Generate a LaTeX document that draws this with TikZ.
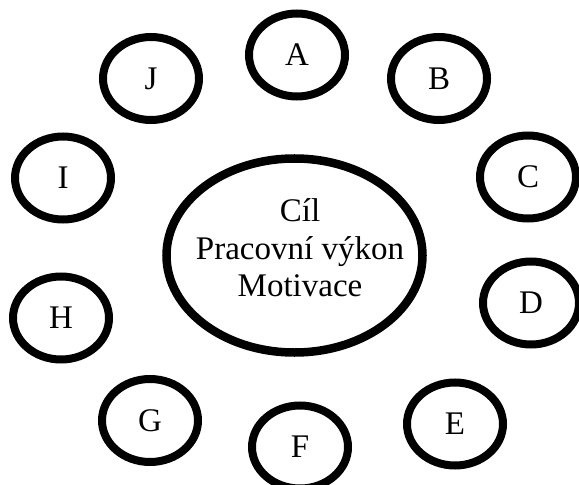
\documentclass[tikz,border=0pt]{standalone}
\usepackage{fontspec}
\setmainfont{Liberation Serif}
\usetikzlibrary{shapes.geometric}
\tikzset{
  bubble/.style={draw=black, line width=8bp, ellipse, inner sep=0pt,
    minimum width=96bp, minimum height=83bp,
    font=\fontsize{33bp}{36bp}\selectfont},
  bigbubble/.style={draw=black, line width=8.5bp, ellipse, inner sep=0pt,
    minimum width=256bp, minimum height=194bp},
  bigtext/.style={align=center, inner sep=0pt,
    font=\fontsize{33bp}{37.5bp}\selectfont}
}
\begin{document}
\begin{tikzpicture}[x=1bp,y=-1bp]
\useasboundingbox (0,0) rectangle (579,485);
\node[bigbubble] (goal) at (294.5,255.5) {};
\node[bigtext] (goaltext) at (300,248) {Cíl\\Pracovní výkon\\Motivace};
\node[bubble] (A) at (297,55) {A};
\node[bubble] (B) at (439,78.5) {B};
\node[bubble] (C) at (528,177) {C};
\node[bubble] (D) at (531,303) {D};
\node[bubble] (E) at (455,424) {E};
\node[bubble] (F) at (300,447) {F};
\node[bubble] (G) at (150,420.5) {G};
\node[bubble] (H) at (61,318) {H};
\node[bubble] (I) at (63,178) {I};
\node[bubble] (J) at (151,78.5) {J};
\end{tikzpicture}
\end{document}
